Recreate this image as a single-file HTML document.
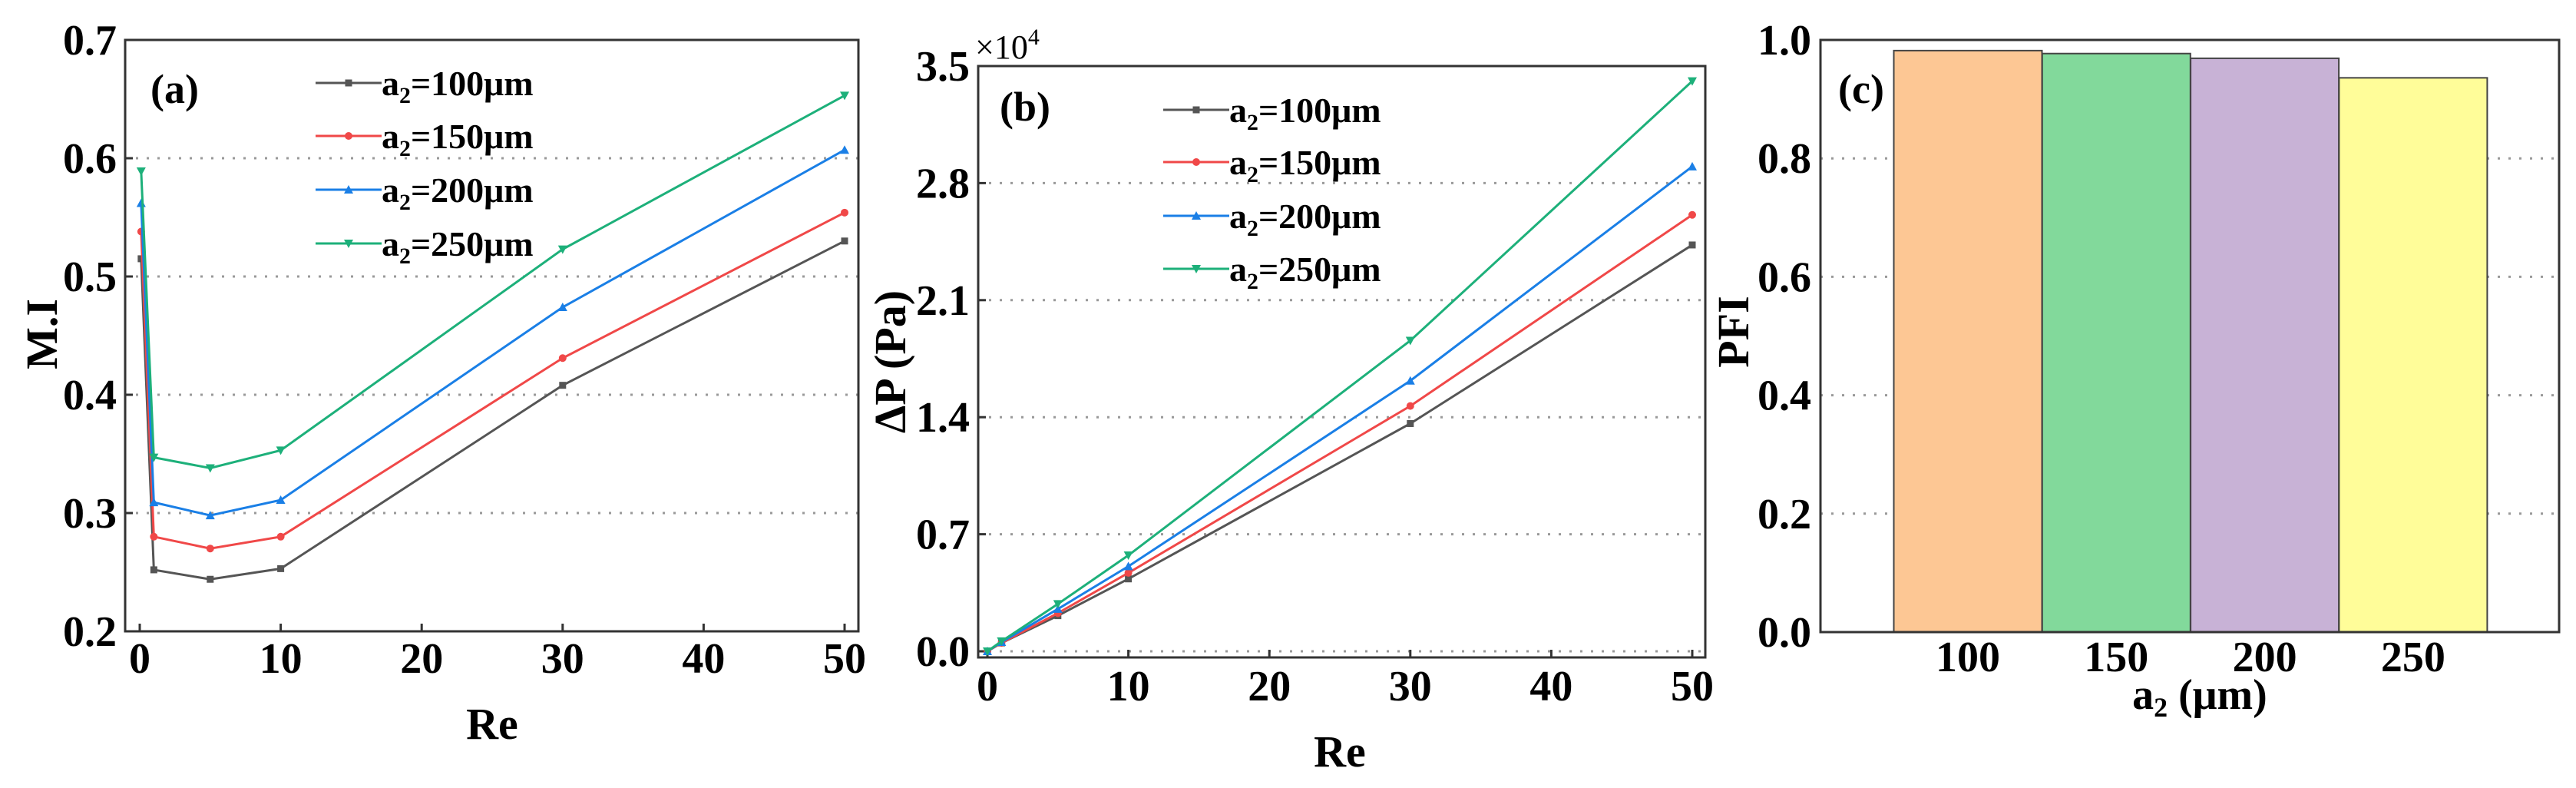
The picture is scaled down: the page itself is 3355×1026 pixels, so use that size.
<!DOCTYPE html>
<html><head><meta charset="utf-8"><style>
html,body{margin:0;padding:0;background:#fff;}
svg{display:block;font-family:"Liberation Serif",serif;font-weight:bold;}
</style></head><body>
<svg id="fig" width="3355" height="1026" viewBox="0 0 3355 1026" xmlns="http://www.w3.org/2000/svg"></svg>
<script>
// ---- data ----
const reValues = [0.1, 1, 5, 10, 30, 50];
const seriesLabels = ["100", "150", "200", "250"];
const miS100 = [0.515, 0.252, 0.244, 0.253, 0.408, 0.530];
const miS150 = [0.538, 0.280, 0.270, 0.280, 0.431, 0.554];
const miS200 = [0.562, 0.309, 0.298, 0.311, 0.474, 0.607];
const miS250 = [0.589, 0.347, 0.338, 0.353, 0.523, 0.653];
const reValuesB = [0, 1, 5, 10, 30, 50];
const dpS100 = [0, 0.05, 0.213, 0.433, 1.362, 2.43];
const dpS150 = [0, 0.05, 0.228, 0.469, 1.467, 2.61];
const dpS200 = [0, 0.055, 0.253, 0.508, 1.618, 2.899];
const dpS250 = [0, 0.06, 0.283, 0.574, 1.858, 3.41];
const pfiCategories = ["100", "150", "200", "250"];
const pfiValues = [0.982, 0.977, 0.969, 0.936];
const xTicksRe = [0, 10, 20, 30, 40, 50];
const yTicksMI = [0.2, 0.3, 0.4, 0.5, 0.6, 0.7];
const yTicksDP = [0.0, 0.7, 1.4, 2.1, 2.8, 3.5];
const yTicksPFI = [0.0, 0.2, 0.4, 0.6, 0.8, 1.0];

const colors = ["#555555", "#f04848", "#1a7fe6", "#1db07a"];
const barColors = ["#fdc794", "#82d99b", "#c8b2d6", "#fffd99"];
const markers = ["square", "circle", "tri", "tridown"];
const NS = "http://www.w3.org/2000/svg";
const svg = document.getElementById("fig");
function mk(tag, attrs, parent) {
  const e = document.createElementNS(NS, tag);
  for (const k in attrs) e.setAttribute(k, attrs[k]);
  (parent || svg).appendChild(e);
  return e;
}
function txt(s, x, y, size, anchor, parent) {
  const t = mk("text", {x: x, y: y, "font-size": size, "text-anchor": anchor || "middle", fill: "#000"}, parent);
  t.textContent = s;
  return t;
}
function marker(kind, x, y, c, g) {
  let m;
  if (kind === "square") m = mk("rect", {x: x-4.5, y: y-4.5, width: 9, height: 9, fill: c}, g);
  else if (kind === "circle") m = mk("circle", {cx: x, cy: y, r: 5, fill: c}, g);
  else if (kind === "tri") m = mk("polygon", {points: `${x},${y-6} ${x-6},${y+5} ${x+6},${y+5}`, fill: c}, g);
  else m = mk("polygon", {points: `${x},${y+6} ${x-6},${y-5} ${x+6},${y-5}`, fill: c}, g);
  return m;
}
function legendItem(g, i, x0, y, size) {
  const c = colors[i];
  const lg = mk("g", {}, g);
  
  
  mk("line", {x1: x0, y1: y, x2: x0 + 86, y2: y, stroke: c, "stroke-width": 3}, lg);
  marker(markers[i], x0 + 43, y, c, lg);
  const t = mk("text", {x: x0 + 86, y: y + 16, "font-size": size, fill: "#000"}, lg);
  t.innerHTML = 'a<tspan font-size="' + (size*0.65) + '" dy="10">2</tspan><tspan dy="-10">=' + seriesLabels[i] + 'μm</tspan>';
}

// ---- Panel (a) ----
(function(){
  const L=163, R=1118, T=52, B=822;
  const x = v => 182 + (v - 0) * (1100 - 182) / 50;
  const y = v => 822 - (v - 0.2) * (822 - 52) / 0.5;
  const g = mk("g", {});
  
  
  yTicksMI.forEach(v => {
    if (v > 0.2 && v < 0.7) {
      const gl = mk("line", {x1: L, x2: R, y1: y(v), y2: y(v), stroke: "#999", "stroke-width": 3, "stroke-dasharray": "3 11"}, g);
      
      
    }
    mk("line", {x1: L, x2: L+10, y1: y(v), y2: y(v), stroke: "#333", "stroke-width": 3}, g);
    const t = txt(v.toFixed(1), 152, y(v) + 19, 56, "end", g);
    
    
  });
  xTicksRe.forEach(v => {
    mk("line", {x1: x(v), x2: x(v), y1: B, y2: B-10, stroke: "#333", "stroke-width": 3}, g);
    const t = txt(String(v), x(v), 876, 56, "middle", g);
    
    
  });
  [miS100, miS150, miS200, miS250].forEach((s, i) => {
    const pts = s.map((v, k) => x(reValues[k]) + "," + y(v)).join(" ");
    const pl = mk("polyline", {points: pts, fill: "none", stroke: colors[i], "stroke-width": 3}, g);
    
    
    s.forEach((v, k) => marker(markers[i], x(reValues[k]), y(v), colors[i], g));
  });
  const fr = mk("rect", {x: L, y: T, width: R-L, height: B-T, fill: "none", stroke: "#333", "stroke-width": 3}, g);
  
  
  const pl = txt("(a)", 196, 134, 54, "start", g);
  
  
  [108,177,247,317].forEach((yy, i) => legendItem(g, i, 411, yy, 46));
  const xt = txt("Re", 641, 962, 58, "middle", g);
  
  
  const yt = txt("M.I", 0, 0, 58, "middle", g);
  yt.setAttribute("transform", "translate(74,435) rotate(-90)");
  
  
})();

// ---- Panel (b) ----
(function(){
  const L=1274, R=2221, T=86, B=856;
  const x = v => 1286 + v * (2204 - 1286) / 50;
  const y = v => 848 - v * (848 - 86) / 3.5;
  const g = mk("g", {});
  
  
  yTicksDP.forEach(v => {
    if (v < 3.5) {
      const gl = mk("line", {x1: L, x2: R, y1: y(v), y2: y(v), stroke: "#999", "stroke-width": 3, "stroke-dasharray": "3 11"}, g);
      
      
    }
    mk("line", {x1: L, x2: L+10, y1: y(v), y2: y(v), stroke: "#333", "stroke-width": 3}, g);
    const t = txt(v.toFixed(1), 1263, y(v) + 19, 56, "end", g);
    
    
  });
  xTicksRe.forEach(v => {
    mk("line", {x1: x(v), x2: x(v), y1: B, y2: B-10, stroke: "#333", "stroke-width": 3}, g);
    const t = txt(String(v), x(v), 912, 56, "middle", g);
    
    
  });
  [dpS100, dpS150, dpS200, dpS250].forEach((s, i) => {
    const pts = s.map((v, k) => x(reValuesB[k]) + "," + y(v)).join(" ");
    const pl = mk("polyline", {points: pts, fill: "none", stroke: colors[i], "stroke-width": 3}, g);
    
    
    s.forEach((v, k) => marker(markers[i], x(reValuesB[k]), y(v), colors[i], g));
  });
  const fr = mk("rect", {x: L, y: T, width: R-L, height: B-T, fill: "none", stroke: "#333", "stroke-width": 3}, g);
  
  
  const ex = mk("text", {x: 1270, y: 76, "font-size": 44, "font-weight": "normal", fill: "#000"}, g);
  ex.innerHTML = '×10<tspan font-size="30" dy="-18">4</tspan>';
  
  
  const pl = txt("(b)", 1302, 157, 54, "start", g);
  
  
  [143,211,281,350].forEach((yy, i) => legendItem(g, i, 1515, yy, 46));
  const xt = txt("Re", 1745, 998, 58, "middle", g);
  
  
  const yt = txt("ΔP (Pa)", 0, 0, 58, "middle", g);
  yt.setAttribute("transform", "translate(1179,471) rotate(-90)");
  
  
})();

// ---- Panel (c) ----
(function(){
  const L=2371, R=3335, T=52, B=823;
  const y = v => 823 - v * (823 - 52) / 1.0;
  const xc = i => 2563 + i * 193.3;
  const bw = 193;
  const g = mk("g", {});
  
  
  yTicksPFI.forEach(v => {
    if (v > 0 && v < 1) {
      const gl = mk("line", {x1: L, x2: R, y1: y(v), y2: y(v), stroke: "#999", "stroke-width": 3, "stroke-dasharray": "3 11"}, g);
      
      
    }
    const t = txt(v.toFixed(1), 2359, y(v) + 19, 56, "end", g);
    
    
  });
  pfiValues.forEach((v, i) => {
    const r = mk("rect", {x: xc(i) - bw/2, y: y(v), width: bw, height: y(0) - y(v), fill: barColors[i], stroke: "#444", "stroke-width": 2}, g);
    
    
    const t = txt(pfiCategories[i], xc(i), 874, 56, "middle", g);
    
    
  });
  const fr = mk("rect", {x: L, y: T, width: R-L-2, height: B-T, fill: "none", stroke: "#333", "stroke-width": 3}, g);
  
  
  const pl = txt("(c)", 2394, 134, 54, "start", g);
  
  
  const xt = mk("text", {x: 2865, y: 923, "font-size": 56, "text-anchor": "middle", fill: "#000"}, g);
  xt.innerHTML = 'a<tspan font-size="36" dy="10">2</tspan><tspan dy="-10"> (μm)</tspan>';
  
  
  const yt = txt("PFI", 0, 0, 58, "middle", g);
  yt.setAttribute("transform", "translate(2277,432) rotate(-90)");
  
  
})();
</script>
</body></html>
